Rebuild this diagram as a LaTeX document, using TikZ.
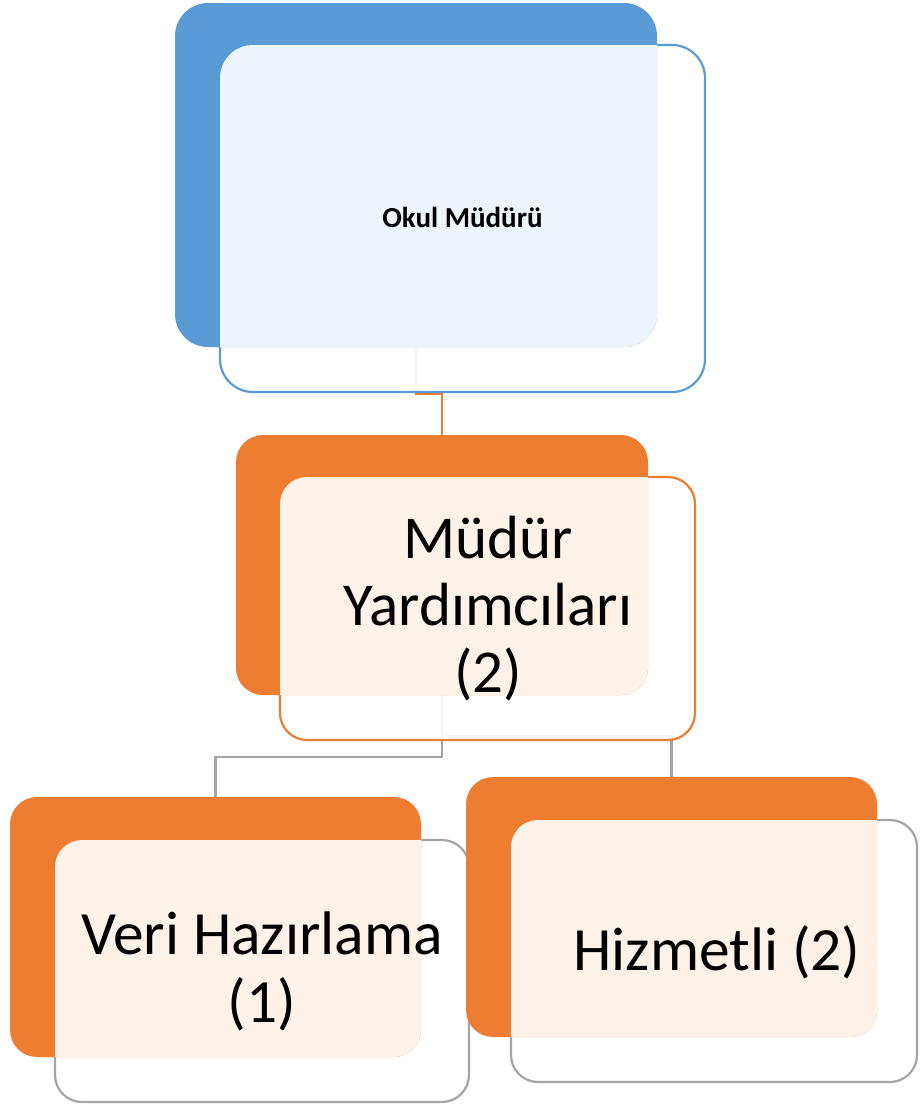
\documentclass[tikz,border=0pt]{standalone}
\usepackage{fontspec}
\setmainfont{Carlito}
\definecolor{accblue}{HTML}{5B9BD5}
\definecolor{accorange}{HTML}{ED7D31}
\definecolor{accgray}{HTML}{A5A5A5}
\begin{document}
\begin{tikzpicture}[x=1pt,y=-1pt,
  shapebox/.style={rectangle, inner sep=0pt, outer sep=0pt},
  conn/.style={line width=2.2pt},
  veil/.style={fill=white, fill opacity=0.9},
  rim/.style={line width=2.2pt},
  label/.style={inner sep=0pt, align=center, text=black}]
\useasboundingbox (0,0) rectangle (919,1106);
% box geometries
\node[shapebox, minimum width=482pt, minimum height=344pt] (b1) at (416,175) {};
\node[shapebox, minimum width=485pt, minimum height=347pt] (f1) at (462.5,218.5) {};
\node[shapebox, minimum width=412pt, minimum height=260pt] (b2) at (442,565) {};
\node[shapebox, minimum width=415pt, minimum height=263pt] (f2) at (487.5,608.5) {};
\node[shapebox, minimum width=411pt, minimum height=260pt] (b3) at (215.5,927) {};
\node[shapebox, minimum width=414pt, minimum height=262pt] (f3) at (262,971) {};
\node[shapebox, minimum width=411pt, minimum height=260pt] (b4) at (671.5,907) {};
\node[shapebox, minimum width=406pt, minimum height=262pt] (f4) at (714,951) {};
% connectors
\draw[conn, accorange] (b1.south) -- ++(0,47) -| (b2.north);
\draw[conn, accgray] (b2.south) -- ++(0,62) -| (b3.north);
\draw[conn, accgray] (b2.south) -- ++(0,41) -| (b4.north);
% pair 1
\fill[veil, rounded corners=33pt] (f1.south west) rectangle (f1.north east);
\draw[rim, accblue, rounded corners=33pt] (f1.south west) rectangle (f1.north east);
\fill[accblue, rounded corners=33pt] (b1.south west) rectangle (b1.north east);
\begin{scope}
\clip[rounded corners=33pt] (b1.south west) rectangle (b1.north east);
\fill[veil, rounded corners=33pt] (f1.south west) rectangle (f1.north east);
\end{scope}
% pair 2
\fill[veil, rounded corners=27pt] (f2.south west) rectangle (f2.north east);
\draw[rim, accorange, rounded corners=27pt] (f2.south west) rectangle (f2.north east);
\fill[accorange, rounded corners=27pt] (b2.south west) rectangle (b2.north east);
\begin{scope}
\clip[rounded corners=27pt] (b2.south west) rectangle (b2.north east);
\fill[veil, rounded corners=27pt] (f2.south west) rectangle (f2.north east);
\end{scope}
% pair 3
\fill[veil, rounded corners=27pt] (f3.south west) rectangle (f3.north east);
\draw[rim, accgray, rounded corners=27pt] (f3.south west) rectangle (f3.north east);
\fill[accorange, rounded corners=27pt] (b3.south west) rectangle (b3.north east);
\begin{scope}
\clip[rounded corners=27pt] (b3.south west) rectangle (b3.north east);
\fill[veil, rounded corners=27pt] (f3.south west) rectangle (f3.north east);
\end{scope}
% pair 4
\fill[veil, rounded corners=27pt] (f4.south west) rectangle (f4.north east);
\draw[rim, accgray, rounded corners=27pt] (f4.south west) rectangle (f4.north east);
\fill[accorange, rounded corners=27pt] (b4.south west) rectangle (b4.north east);
\begin{scope}
\clip[rounded corners=27pt] (b4.south west) rectangle (b4.north east);
\fill[veil, rounded corners=27pt] (f4.south west) rectangle (f4.north east);
\end{scope}
% texts
\node[label, font=\bfseries\fontsize{29}{32}\selectfont] (t1) at (462.5,217) {Okul Müdürü};
\node[label, font=\fontsize{61}{67}\selectfont] (t2) at (488,609) {Müdür\\Yardımcıları\\(2)};
\node[label, font=\fontsize{61.5}{68}\selectfont] (t3) at (262,971) {Veri Hazırlama\\(1)};
\node[label, font=\fontsize{61.5}{68}\selectfont] (t4) at (717,952) {Hizmetli (2)};
\end{tikzpicture}
\end{document}
